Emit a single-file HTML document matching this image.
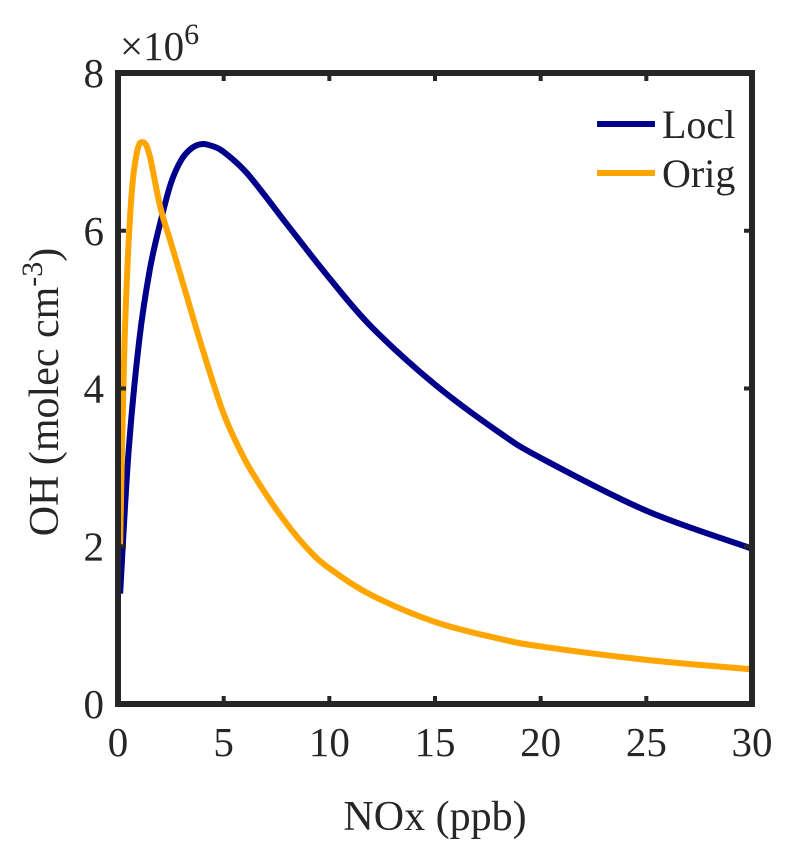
<!DOCTYPE html>
<html><head><meta charset="utf-8"><style>
body{margin:0;background:#fff;}
svg text{font-family:"Liberation Serif",serif;fill:#262626;}
</style></head><body>
<svg id="chart" width="788" height="844" xmlns="http://www.w3.org/2000/svg">
<rect width="788" height="844" fill="#fff"/>
<g id="plot"></g>
</svg>
<script>
const xTicks=[0,5,10,15,20,25,30];
const yTicks=[0,2,4,6,8];
const loclX=[0.1,0.5,1,1.5,2,2.5,3,3.5,4,4.5,5,6,7,8,10,12,15,18,20,25,30];
const loclY=[1.4,3.2,4.6,5.5,6.1,6.6,6.9,7.05,7.1,7.07,7.0,6.76,6.43,6.08,5.4,4.78,4.05,3.45,3.12,2.45,1.97];
const origX=[0.1,0.3,0.6,0.9,1.2,1.5,2,2.5,3,4,5,6,7,8,9,10,12,15,18,20,25,30];
const origY=[2.0,4.5,6.3,7.0,7.12,6.95,6.3,5.85,5.4,4.5,3.68,3.1,2.66,2.28,1.96,1.72,1.38,1.04,0.83,0.73,0.56,0.44];
const L=118,R=752,T=73,B=704;
const sx=v=>L+(v-0)/30*(R-L);
const sy=v=>B-(v/8)*(B-T);
const NS="http://www.w3.org/2000/svg";
const g=document.getElementById('plot');
function mk(tag,attrs){const e=document.createElementNS(NS,tag);for(const k in attrs)e.setAttribute(k,attrs[k]);g.appendChild(e);return e;}
function path(xs,ys){
  const p=xs.map((x,i)=>[sx(x),sy(ys[i])]);
  let d='M'+p[0][0]+','+p[0][1];
  for(let i=0;i<p.length-1;i++){
    const p0=p[i-1]||p[i],p1=p[i],p2=p[i+1],p3=p[i+2]||p2;
    const c1=[p1[0]+(p2[0]-p0[0])/6,p1[1]+(p2[1]-p0[1])/6];
    const c2=[p2[0]-(p3[0]-p1[0])/6,p2[1]-(p3[1]-p1[1])/6];
    d+=`C${c1[0]},${c1[1]} ${c2[0]},${c2[1]} ${p2[0]},${p2[1]}`;
  }
  return d;
}
let e;
e=mk('path',{d:path(loclX,loclY),fill:'none',stroke:'#00008b','stroke-width':6,'stroke-linejoin':'round'});


e=mk('path',{d:path(origX,origY),fill:'none',stroke:'#ffa500','stroke-width':6,'stroke-linejoin':'round'});


e=mk('rect',{x:L,y:T,width:R-L,height:B-T,fill:'none',stroke:'#262626','stroke-width':6});


xTicks.forEach(v=>{
  const x=sx(v);
  mk('line',{x1:x,x2:x,y1:B,y2:B-8,stroke:'#262626','stroke-width':4});
  mk('line',{x1:x,x2:x,y1:T,y2:T+8,stroke:'#262626','stroke-width':4});
  e=mk('text',{x:x,y:B+52,'font-size':41,'text-anchor':'middle'});e.textContent=v;
  
  
});
yTicks.forEach(v=>{
  const y=sy(v);
  mk('line',{x1:L,x2:L+8,y1:y,y2:y,stroke:'#262626','stroke-width':4});
  mk('line',{x1:R,x2:R-8,y1:y,y2:y,stroke:'#262626','stroke-width':4});
  e=mk('text',{x:L-14,y:y+14,'font-size':41,'text-anchor':'end'});e.textContent=v;
  
  
});
</script>
<svg style="position:absolute;left:0;top:0" width="788" height="844" xmlns="http://www.w3.org/2000/svg">
<text x="120" y="60" font-size="41">×10<tspan font-size="30" dy="-16">6</tspan></text>
<text x="435" y="830" font-size="42" text-anchor="middle">NOx (ppb)</text>
<text transform="translate(58,392) rotate(-90)" font-size="42" text-anchor="middle">OH (molec cm<tspan font-size="30" dy="-16">-3</tspan><tspan dy="16">)</tspan></text>
<g>
<line x1="597" y1="124" x2="655" y2="124" stroke="#00008b" stroke-width="6"/>
<text x="662" y="138" font-size="40">Locl</text>
<line x1="597" y1="173" x2="655" y2="173" stroke="#ffa500" stroke-width="6"/>
<text x="662" y="187" font-size="40">Orig</text>
</g>
</svg>
</body></html>
